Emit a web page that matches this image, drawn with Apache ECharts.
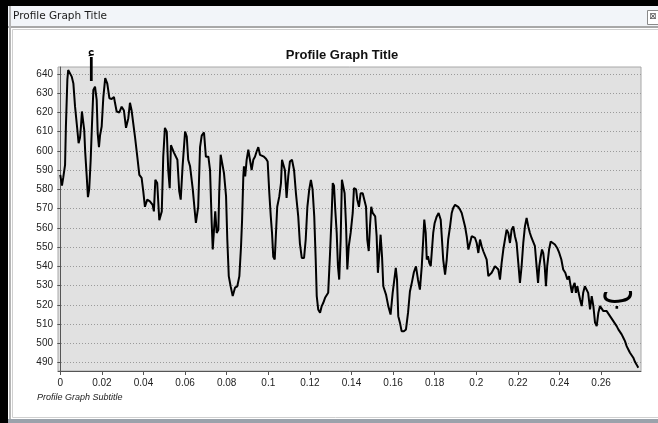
<!DOCTYPE html>
<html>
<head>
<meta charset="utf-8">
<title>Profile Graph Title</title>
<style>
  html, body, #chart { width: 100%; height: 100%; margin: 0; padding: 0; background: #fff; }
</style>
</head>
<body>
<div id="chart"></div>
<script src="https://cdn.jsdelivr.net/npm/echarts@6/dist/echarts.min.js"></script>
<script>
// profile samples: distance along the line and elevation
const distance = [
  0.0000, 0.0008, 0.0014, 0.0023, 0.0027, 0.0034, 0.0038, 0.0047, 0.0055, 0.0063,
  0.0071, 0.0082, 0.0088, 0.0095, 0.0100, 0.0104, 0.0111, 0.0115, 0.0120, 0.0127,
  0.0133, 0.0139, 0.0146, 0.0152, 0.0159, 0.0167, 0.0175, 0.0180, 0.0186, 0.0191,
  0.0199, 0.0207, 0.0216, 0.0226, 0.0236, 0.0247, 0.0258, 0.0263, 0.0271, 0.0284,
  0.0295, 0.0306, 0.0316, 0.0327, 0.0335, 0.0343, 0.0359, 0.0372, 0.0380, 0.0391,
  0.0399, 0.0407, 0.0418, 0.0431, 0.0444, 0.0450, 0.0457, 0.0466, 0.0476, 0.0488,
  0.0495, 0.0503, 0.0512, 0.0519, 0.0526, 0.0532, 0.0540, 0.0547, 0.0556, 0.0563,
  0.0572, 0.0579, 0.0588, 0.0600, 0.0608, 0.0615, 0.0624, 0.0637, 0.0648, 0.0652,
  0.0663, 0.0672, 0.0680, 0.0691, 0.0700, 0.0712, 0.0720, 0.0728, 0.0733, 0.0739,
  0.0745, 0.0752, 0.0760, 0.0764, 0.0771, 0.0779, 0.0787, 0.0797, 0.0803, 0.0810,
  0.0819, 0.0829, 0.0840, 0.0851, 0.0861, 0.0869, 0.0874, 0.0880, 0.0883, 0.0889,
  0.0896, 0.0904, 0.0912, 0.0920, 0.0928, 0.0936, 0.0944, 0.0952, 0.0960, 0.0968,
  0.0979, 0.0989, 0.0997, 0.1005, 0.1012, 0.1018, 0.1024, 0.1031, 0.1037, 0.1043,
  0.1053, 0.1061, 0.1066, 0.1072, 0.1080, 0.1088, 0.1096, 0.1104, 0.1114, 0.1124,
  0.1133, 0.1144, 0.1152, 0.1161, 0.1172, 0.1180, 0.1188, 0.1197, 0.1205, 0.1213,
  0.1221, 0.1228, 0.1233, 0.1240, 0.1249, 0.1257, 0.1264, 0.1273, 0.1281, 0.1288,
  0.1297, 0.1305, 0.1310, 0.1316, 0.1322, 0.1329, 0.1335, 0.1341, 0.1348, 0.1354,
  0.1361, 0.1367, 0.1374, 0.1380, 0.1387, 0.1396, 0.1406, 0.1412, 0.1422, 0.1428,
  0.1436, 0.1444, 0.1454, 0.1462, 0.1470, 0.1476, 0.1483, 0.1489, 0.1495, 0.1502,
  0.1508, 0.1514, 0.1521, 0.1527, 0.1534, 0.1540, 0.1547, 0.1553, 0.1566, 0.1577,
  0.1588, 0.1598, 0.1606, 0.1613, 0.1619, 0.1625, 0.1633, 0.1641, 0.1652, 0.1662,
  0.1672, 0.1681, 0.1691, 0.1700, 0.1710, 0.1720, 0.1729, 0.1738, 0.1745, 0.1750,
  0.1757, 0.1762, 0.1768, 0.1774, 0.1781, 0.1787, 0.1793, 0.1800, 0.1810, 0.1819,
  0.1829, 0.1835, 0.1841, 0.1850, 0.1858, 0.1865, 0.1874, 0.1882, 0.1889, 0.1898,
  0.1906, 0.1913, 0.1922, 0.1930, 0.1938, 0.1946, 0.1954, 0.1962, 0.1970, 0.1978,
  0.1986, 0.1994, 0.2002, 0.2010, 0.2018, 0.2026, 0.2034, 0.2042, 0.2050, 0.2058,
  0.2066, 0.2074, 0.2082, 0.2090, 0.2098, 0.2106, 0.2114, 0.2122, 0.2130, 0.2138,
  0.2146, 0.2154, 0.2162, 0.2170, 0.2178, 0.2186, 0.2194, 0.2202, 0.2210, 0.2218,
  0.2226, 0.2234, 0.2242, 0.2250, 0.2258, 0.2266, 0.2274, 0.2282, 0.2290, 0.2297,
  0.2303, 0.2310, 0.2316, 0.2322, 0.2329, 0.2335, 0.2341, 0.2350, 0.2358, 0.2367,
  0.2378, 0.2389, 0.2399, 0.2409, 0.2418, 0.2428, 0.2438, 0.2446, 0.2454, 0.2460,
  0.2466, 0.2473, 0.2479, 0.2486, 0.2492, 0.2499, 0.2507, 0.2514, 0.2522, 0.2531,
  0.2538, 0.2547, 0.2555, 0.2563, 0.2571, 0.2579, 0.2587, 0.2595, 0.2603, 0.2611,
  0.2619, 0.2627, 0.2635, 0.2643, 0.2651, 0.2659, 0.2667, 0.2675, 0.2683, 0.2691,
  0.2699, 0.2707, 0.2715, 0.2723, 0.2731, 0.2739, 0.2747, 0.2755, 0.2763, 0.2771,
  0.2779
];
const elevation = [
  587.6, 582.0, 586.0, 592.8, 612.7, 637.0, 642.0, 642.0, 638.6, 635.0,
  623.0, 611.0, 604.0, 607.0, 613.6, 620.5, 620.0, 611.0, 599.0, 587.0,
  576.0, 580.0, 595.0, 612.7, 631.7, 633.4, 626.5, 609.0, 602.0, 608.0,
  612.7, 628.0, 637.8, 635.0, 627.4, 627.0, 628.0, 625.0, 620.5, 620.0,
  623.0, 621.0, 612.0, 617.0, 625.0, 621.0, 607.5, 595.4, 587.6, 586.0,
  579.0, 571.0, 574.7, 573.8, 572.0, 568.6, 585.0, 583.3, 564.0, 568.6,
  597.0, 612.0, 610.0, 590.0, 580.7, 603.0, 603.0, 599.0, 599.5, 595.4,
  579.0, 574.7, 592.0, 610.0, 607.5, 595.4, 592.0, 580.0, 567.0, 562.6,
  571.0, 602.0, 608.0, 609.6, 597.0, 597.0, 590.0, 562.6, 548.8, 559.0,
  568.6, 557.4, 559.0, 578.0, 598.0, 597.0, 588.5, 576.4, 554.0, 535.0,
  529.7, 524.6, 529.0, 529.7, 535.0, 550.5, 564.0, 586.8, 592.0, 586.8,
  595.4, 600.6, 595.4, 590.0, 595.4, 597.0, 599.7, 602.0, 598.0, 597.0,
  597.0, 596.0, 594.5, 578.0, 566.0, 557.4, 545.0, 543.6, 557.4, 571.0,
  576.4, 583.3, 595.4, 595.4, 590.0, 575.6, 586.8, 594.5, 595.4, 590.0,
  578.0, 566.0, 552.0, 544.4, 544.4, 554.0, 571.0, 580.0, 585.0, 580.0,
  566.0, 543.6, 524.6, 517.7, 516.0, 519.4, 521.0, 523.7, 523.0, 526.3,
  547.0, 567.8, 583.3, 582.0, 569.5, 557.4, 540.0, 533.2, 554.0, 585.0,
  585.0, 578.0, 561.0, 538.4, 550.5, 557.4, 567.8, 580.7, 580.0, 574.7,
  571.0, 578.0, 578.0, 578.0, 571.0, 554.0, 548.0, 561.0, 571.0, 567.8,
  567.8, 566.0, 555.7, 536.7, 547.0, 556.5, 545.0, 529.7, 525.4, 519.4,
  515.0, 526.3, 533.2, 539.3, 533.0, 514.2, 510.8, 506.4, 506.4, 507.3,
  516.0, 527.0, 532.0, 537.0, 540.0, 533.0, 528.0, 540.2, 554.0, 564.3,
  557.4, 543.6, 545.3, 541.9, 540.2, 548.8, 557.4, 562.6, 566.0, 567.8,
  564.3, 554.0, 543.6, 535.8, 543.6, 554.0, 560.8, 567.8, 570.4, 572.0,
  572.5, 571.0, 569.5, 567.8, 564.3, 560.8, 555.7, 548.8, 552.2, 555.7,
  556.5, 554.8, 552.2, 547.0, 554.0, 550.5, 547.9, 547.9, 543.6, 535.0,
  535.0, 536.7, 538.4, 540.2, 541.0, 538.4, 533.2, 541.9, 548.8, 554.0,
  559.1, 557.4, 552.2, 559.1, 560.8, 555.7, 552.2, 541.9, 531.5, 540.2,
  552.2, 560.8, 565.2, 560.8, 557.4, 554.8, 554.0, 550.5, 540.2, 531.5,
  540.2, 545.3, 548.8, 547.0, 540.2, 529.7, 540.2, 548.8, 553.0, 554.0,
  551.4, 549.6, 547.0, 543.6, 538.4, 536.7, 533.2, 535.0, 529.7, 526.3,
  529.7, 531.5, 526.3, 529.7, 526.3, 522.8, 519.4, 526.3, 529.7, 529.7,
  526.3, 517.7, 524.6, 519.4, 510.8, 509.0, 516.0, 519.4, 518.5, 516.8,
  516.0, 516.8, 516.0, 514.2, 513.4, 511.6, 510.8, 509.0, 507.3, 506.4,
  504.7, 503.0, 501.2, 498.6, 496.9, 495.2, 494.3, 492.6, 490.5, 489.0,
  487.4
];
const xTicks = [0, 0.02, 0.04, 0.06, 0.08, 0.1, 0.12, 0.14, 0.16, 0.18, 0.2, 0.22, 0.24, 0.26];
const yTicks = [490, 500, 510, 520, 530, 540, 550, 560, 570, 580, 590, 600, 610, 620, 630, 640];

const chartTitle = 'Profile Graph Title';
const chartSubtitle = 'Profile Graph Subtitle';
const startMark = 'أ';
const endMark = 'ب';

const points = distance.map((d, i) => [d, elevation[i]]);

const chart = echarts.init(document.getElementById('chart'));

chart.setOption({
  animation: false,
  backgroundColor: '#fff',
  title: {
    text: chartTitle,
    left: 337,
    top: 44,
    textAlign: 'center',
    textStyle: { fontFamily: 'Liberation Sans', fontSize: 13, fontWeight: 'bold', color: '#111' }
  },
  grid: {
    left: 58, top: 67, right: 17, bottom: 52,
    show: true,
    backgroundColor: '#e1e1e1',
    borderColor: '#a8a8a8',
    borderWidth: 1
  },
  xAxis: {
    type: 'value',
    min: -0.0011,
    max: 0.2792,
    axisLine: { show: true, onZero: false, lineStyle: { color: '#555', width: 1 } },
    axisTick: { show: true, customValues: xTicks, length: 4, lineStyle: { color: '#555' } },
    axisLabel: {
      customValues: xTicks,
      margin: 7,
      fontFamily: 'Liberation Sans', fontSize: 10, color: '#222',
      formatter: v => String(+v.toFixed(2))
    },
    splitLine: { show: false }
  },
  yAxis: {
    type: 'value',
    min: 485.7,
    max: 643.6,
    axisLine: { show: true, lineStyle: { color: '#555', width: 1 } },
    axisTick: { show: true, customValues: yTicks, length: 3, lineStyle: { color: '#555' } },
    axisLabel: {
      customValues: yTicks,
      margin: 5,
      fontFamily: 'Liberation Sans', fontSize: 10, color: '#222'
    },
    splitLine: { show: true, lineStyle: { color: '#9a9a9a', type: [1, 2], width: 1 } }
  },
  series: [{
    type: 'line',
    data: points,
    showSymbol: false,
    symbol: 'none',
    lineStyle: { color: '#000', width: 2 },
    z: 5
  }],
  graphic: [
    // window frame
    { type: 'rect', shape: { x: 0, y: 0, width: 658, height: 6 }, style: { fill: '#000' }, silent: true },
    { type: 'rect', shape: { x: 0, y: 0, width: 8, height: 423 }, style: { fill: '#000' }, silent: true },
    { type: 'rect', shape: { x: 8, y: 6, width: 650, height: 21 }, style: { fill: '#f2f5f9' }, silent: true },
    { type: 'line', shape: { x1: 8, y1: 27, x2: 658, y2: 27 }, style: { stroke: '#a8a8a8', lineWidth: 2 }, silent: true },
    { type: 'line', shape: { x1: 10, y1: 6, x2: 10, y2: 423 }, style: { stroke: '#b5b5b5', lineWidth: 2 }, silent: true },
    { type: 'rect', shape: { x: 12.5, y: 29.5, width: 660, height: 388 }, style: { fill: 'none', stroke: '#d0d0d0', lineWidth: 1 }, silent: true },
    { type: 'rect', shape: { x: 8, y: 419, width: 650, height: 4 }, style: { fill: '#9ba2ab' }, silent: true },
    { type: 'text', left: 13, top: 11, style: { text: chartTitle, fontFamily: 'DejaVu Sans', fontSize: 10.5, fill: '#1a1a1a' }, silent: true },
    { type: 'rect', shape: { x: 647.5, y: 10.5, width: 12, height: 14 }, style: { fill: '#fff', stroke: '#8a8a8a' }, silent: true },
    { type: 'text', left: 649, top: 12, style: { text: '⊠', fontFamily: 'DejaVu Sans', fontSize: 9, fill: '#555' }, silent: true },
    // subtitle
    { type: 'text', left: 37, top: 393, style: { text: chartSubtitle, fontFamily: 'Liberation Sans', fontSize: 9, fontStyle: 'italic', fill: '#222' }, silent: true },
    // hand-written end marks
    { type: 'text', left: 87, top: 57, z: 10, style: { text: startMark, fontFamily: 'DejaVu Sans', fontSize: 31, fill: '#000' }, silent: true },
    { type: 'text', left: 601, top: 276, z: 10, style: { text: endMark, fontFamily: 'DejaVu Sans', fontSize: 36, fill: '#000' }, silent: true }
  ]
});
</script>
</body>
</html>
